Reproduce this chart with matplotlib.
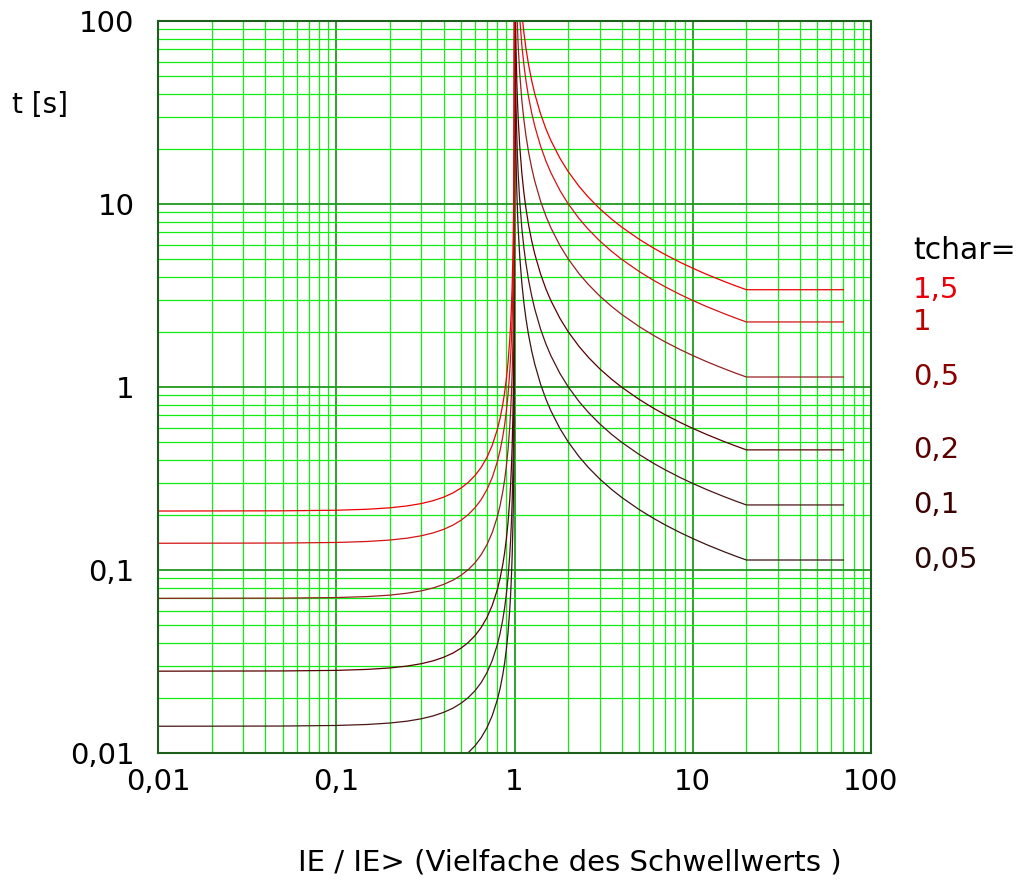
"""
Inverse-time tripping curves t(IE/IE>) for several tchar settings,
log-log with a dense green paper grid.
"""

import matplotlib
matplotlib.use("Agg")
import matplotlib.pyplot as plt
from matplotlib.ticker import FixedLocator, FixedFormatter, LogLocator, NullFormatter

# multiples of the threshold (x)
ratio = [0.01, 0.05, 0.1, 0.15, 0.2, 0.25, 0.3, 0.35, 0.4, 0.45, 0.5, 0.55,
         0.6, 0.65, 0.7, 0.75, 0.8, 0.83, 0.86, 0.88, 0.9, 0.92, 0.94, 0.95,
         0.96, 0.97, 0.98, 0.985, 0.99, 0.995, 0.998, 0.999,
         1.001, 1.003, 1.005, 1.01, 1.015, 1.02, 1.03, 1.04, 1.05, 1.07, 1.1,
         1.13, 1.16, 1.2, 1.25, 1.3, 1.4, 1.5, 1.6, 1.8, 2, 2.3, 2.6, 3, 3.5,
         4, 5, 6, 7, 8.5, 10, 12, 15, 17.5, 20, 70]

# tripping times [s], one list per tchar
t_15 = [0.2100, 0.2106, 0.2121, 0.2148, 0.2187, 0.2240, 0.2307, 0.2393,
        0.2500, 0.2633, 0.2800, 0.3011, 0.3282, 0.3636, 0.4118, 0.4800,
        0.5833, 0.6750, 0.8064, 0.9309, 1.105, 1.367, 1.804, 2.154, 2.679,
        3.553, 5.303, 7.053, 10.55, 21.05, 52.55, 105.1,
        10500, 3505, 2105, 1055, 705.2, 530.1, 355.1, 267.6, 215.1, 155.1,
        110.1, 85.80, 70.64, 57.48, 46.95, 39.92, 31.10, 25.79, 22.23, 17.76,
        15.05, 12.50, 10.88, 9.453, 8.277, 7.470, 6.420, 5.756, 5.292, 4.802,
        4.457, 4.122, 3.774, 3.564, 3.401, 3.401]
t_1 = [0.1400, 0.1404, 0.1414, 0.1432, 0.1458, 0.1493, 0.1538, 0.1595,
       0.1667, 0.1755, 0.1867, 0.2007, 0.2188, 0.2424, 0.2745, 0.3200,
       0.3889, 0.4500, 0.5376, 0.6206, 0.7368, 0.9115, 1.2027, 1.4359, 1.7857,
       2.3689, 3.5354, 4.7019, 7.0352, 14.035, 35.035, 70.035,
       7000, 2337, 1403, 703.4, 470.1, 353.4, 236.7, 178.4, 143.4, 103.4,
       73.37, 57.20, 47.09, 38.32, 31.30, 26.61, 20.73, 17.19, 14.82, 11.84,
       10.03, 8.334, 7.256, 6.302, 5.518, 4.980, 4.280, 3.837, 3.528, 3.201,
       2.971, 2.748, 2.516, 2.376, 2.267, 2.267]
t_05 = [0.0700, 0.0702, 0.0707, 0.0716, 0.0729, 0.0747, 0.0769, 0.0798,
        0.0834, 0.0878, 0.0934, 0.1004, 0.1094, 0.1212, 0.1373, 0.1600,
        0.1945, 0.2250, 0.2688, 0.3103, 0.3684, 0.4558, 0.6014, 0.7180,
        0.8929, 1.184, 1.768, 2.351, 3.518, 7.018, 17.52, 35.02,
        3500, 1168, 701.5, 351.7, 235.1, 176.7, 118.4, 89.20, 71.70, 51.70,
        36.69, 28.60, 23.55, 19.16, 15.65, 13.31, 10.37, 8.595, 7.410, 5.920,
        5.015, 4.167, 3.628, 3.151, 2.759, 2.490, 2.140, 1.919, 1.764, 1.601,
        1.486, 1.374, 1.258, 1.188, 1.134, 1.134]
t_02 = [0.0280, 0.02808, 0.02828, 0.02864, 0.02916, 0.02986, 0.03076,
        0.0319, 0.03334, 0.0351, 0.03734, 0.04014, 0.04376, 0.04848, 0.0549,
        0.0640, 0.07778, 0.0900, 0.1075, 0.1241, 0.1474, 0.1823, 0.2405,
        0.2872, 0.3571, 0.4738, 0.7071, 0.9404, 1.407, 2.807, 7.007, 14.01,
        1400, 467.4, 280.6, 140.7, 94.02, 70.68, 47.34, 35.68, 28.68, 20.68,
        14.67, 11.44, 9.418, 7.664, 6.260, 5.322, 4.146, 3.438, 2.964, 2.368,
        2.006, 1.667, 1.451, 1.260, 1.104, 0.996, 0.856, 0.7674, 0.7056,
        0.6402, 0.5942, 0.5496, 0.5032, 0.4752, 0.4534, 0.4534]
t_01 = [0.0140, 0.01404, 0.01414, 0.01432, 0.01458, 0.01493, 0.01538,
        0.01595, 0.01667, 0.01755, 0.01867, 0.02007, 0.02188, 0.02424,
        0.02745, 0.0320, 0.03889, 0.0450, 0.05376, 0.06206, 0.07368, 0.09115,
        0.1203, 0.1436, 0.1786, 0.2369, 0.3535, 0.4702, 0.7035, 1.404, 3.504,
        7.004,
        700, 233.7, 140.3, 70.34, 47.01, 35.34, 23.67, 17.84, 14.34, 10.34,
        7.337, 5.720, 4.709, 3.832, 3.130, 2.661, 2.073, 1.719, 1.482, 1.184,
        1.003, 0.8334, 0.7256, 0.6302, 0.5518, 0.4980, 0.4280, 0.3837, 0.3528,
        0.3201, 0.2971, 0.2748, 0.2516, 0.2376, 0.2267, 0.2267]
t_005 = [0.0070, 0.00702, 0.00707, 0.00716, 0.00729, 0.00747, 0.00769,
         0.00798, 0.00834, 0.00878, 0.00934, 0.01004, 0.01094, 0.01212,
         0.01373, 0.0160, 0.01945, 0.0225, 0.02688, 0.03103, 0.03684,
         0.04558, 0.06014, 0.0718, 0.08929, 0.1184, 0.1768, 0.2351, 0.3518,
         0.7018, 1.752, 3.502,
         350, 116.8, 70.15, 35.17, 23.51, 17.67, 11.84, 8.920, 7.170, 5.170,
         3.669, 2.860, 2.355, 1.916, 1.565, 1.331, 1.037, 0.8595, 0.7410,
         0.5920, 0.5015, 0.4167, 0.3628, 0.3151, 0.2759, 0.2490, 0.2140,
         0.1919, 0.1764, 0.1601, 0.1486, 0.1374, 0.1258, 0.1188, 0.1134,
         0.1134]

curves = [t_15, t_1, t_05, t_02, t_01, t_005]
tchar_labels = ["1,5", "1", "0,5", "0,2", "0,1", "0,05"]
label_levels = [3.40, 2.267, 1.13, 0.453, 0.227, 0.113]

ticks = [0.01, 0.1, 1, 10, 100]
tick_labels = ["0,01", "0,1", "1", "10", "100"]

line_colors = ["#ee0000", "#d41212", "#952020", "#580000", "#4a1616", "#3a1414"]
text_colors = ["#e8000a", "#bb0000", "#880000", "#5a0000", "#3c0000", "#2a0808"]


def main():
    fig = plt.figure(figsize=(10.19, 8.81), dpi=100)
    ax = fig.add_axes([158 / 1019, 1 - 753 / 881, 713 / 1019, 732 / 881])
    ax.set_xscale("log")
    ax.set_yscale("log")
    ax.set_xlim(0.01, 100)
    ax.set_ylim(0.01, 100)

    # green paper grid
    for axis in (ax.xaxis, ax.yaxis):
        axis.set_major_locator(FixedLocator(ticks))
        axis.set_major_formatter(FixedFormatter(tick_labels))
        axis.set_minor_locator(LogLocator(base=10, subs=range(2, 10)))
        axis.set_minor_formatter(NullFormatter())
    ax.grid(which="minor", color="#10ee10", linewidth=0.9)
    ax.grid(which="major", color="#1f9a1f", linewidth=1.3)
    ax.set_axisbelow(True)
    ax.tick_params(which="both", length=0)
    ax.tick_params(axis="y", labelsize=21, pad=17)
    ax.tick_params(axis="x", labelsize=21, pad=11)
    for sp in ax.spines.values():
        sp.set_color("#1d5e1d")
        sp.set_linewidth(1.5)

    # darker curves first, red ones on top
    for vals, col in reversed(list(zip(curves, line_colors))):
        ax.plot(ratio, vals, color=col, linewidth=0.9)

    tr = ax.get_yaxis_transform()
    ax.text(1.059, 5.6, "tchar=", transform=tr, fontsize=21.5,
            ha="left", va="center", clip_on=False)
    for lab, lvl, col in zip(tchar_labels, label_levels, text_colors):
        ax.text(1.059, lvl, lab, transform=tr, fontsize=21, color=col,
                ha="left", va="center", clip_on=False)

    fig.text(12 / 1019, 1 - 105 / 881, "t [s]", fontsize=20,
             ha="left", va="center")
    fig.text(570 / 1019, 1 - 862 / 881,
             "IE / IE> (Vielfache des Schwellwerts )", fontsize=21,
             ha="center", va="center")

    fig.savefig("out.png", dpi=100)


if __name__ == "__main__":
    main()
